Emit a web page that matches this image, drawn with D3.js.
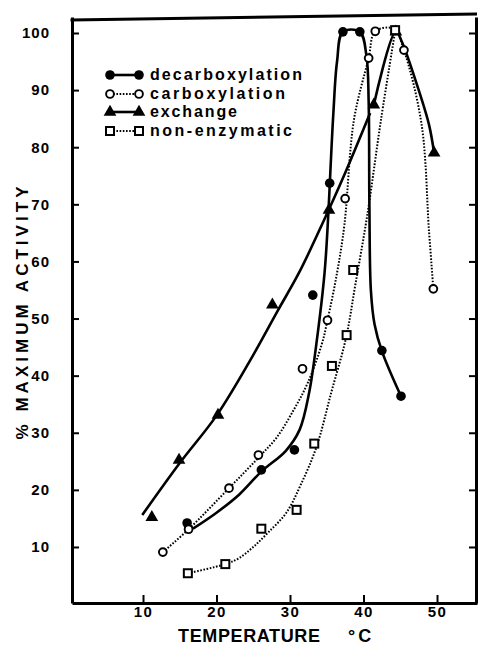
<!DOCTYPE html>
<html><head><meta charset="utf-8">
<script src="https://cdn.jsdelivr.net/npm/d3@7"></script>
<style>
html,body{margin:0;padding:0;background:#fff;}
svg{display:block;}
text{font-family:"Liberation Sans",Arial,Helvetica,sans-serif;font-weight:bold;fill:#000;}
</style></head>
<body><svg id="c" width="478" height="646"></svg>
<script>
// ---- data (temperature °C, % maximum activity) ----
const decarbT = [16.0, 26.1, 30.6, 33.1, 35.4, 37.2, 39.5, 42.5, 45.1];
const decarbV = [14.2, 23.5, 27.0, 54.1, 73.7, 100.2, 100.2, 44.4, 36.4];
const decarbCurveT = [16.8, 20, 23.1, 26.1, 29.4, 31.3, 32.6, 33.6, 34.7, 35.2, 35.5, 35.9, 36.4, 37.2, 39.5, 40.4, 40.7, 40.8, 41.0, 41.5, 42.5, 45.1];
const decarbCurveV = [13.2, 16, 19.2, 23.2, 26.8, 30.5, 37, 45.7, 58, 68, 76, 86, 95, 100.2, 100.2, 96, 88, 70, 55, 49, 44.3, 36.4];

const carbT = [12.7, 16.2, 21.7, 25.7, 31.7, 35.1, 37.5, 40.7, 41.6, 45.5, 49.5];
const carbV = [9.1, 13.1, 20.3, 26.1, 41.2, 49.7, 71.0, 95.6, 100.3, 97.0, 55.2];
const carbCurveT = [12.7, 16.2, 21.7, 25.6, 28.2, 30.5, 32.4, 34.3, 35.1, 36.4, 37.4, 38.7, 40.7, 41.6, 44.2, 45.5, 47.9, 48.9, 49.5];
const carbCurveV = [9.1, 13.1, 20.3, 25.5, 29.2, 34, 38.7, 45.4, 49.7, 58, 66.4, 84.8, 95.6, 100.3, 100.7, 97, 84, 65.5, 55.2];

const exchT = [11.2, 14.9, 20.2, 27.6, 35.3, 41.4, 44.4, 49.6];
const exchV = [15.2, 25.2, 33.1, 52.4, 69.0, 87.4, 100.2, 79.0];
const exchCurve1T = [9.9, 15, 20, 24.5, 28.3, 31.3, 34.4, 37.5, 40.9];
const exchCurve1V = [15.6, 24.7, 33, 42.5, 51.3, 58.2, 66.6, 75.5, 86];
const exchCurve2T = [41.4, 44.4, 45.2, 47, 48.9, 49.6];
const exchCurve2V = [87.4, 100.3, 98.5, 92, 84, 79];

const nonT = [16.1, 21.2, 26.1, 30.9, 33.3, 35.7, 37.7, 38.6, 44.3];
const nonV = [5.4, 7.0, 13.2, 16.5, 28.1, 41.7, 47.1, 58.5, 100.5];
const nonCurveT = [16.1, 21.2, 23, 25, 27, 29.5, 31.5, 33.6, 35.6, 37.6, 38.9, 40.5, 42.4, 44.3];
const nonCurveV = [5.4, 7, 8, 10, 12.5, 16, 21, 27.5, 37, 46.5, 56, 68, 85, 100.3];

const xTicks = [10, 20, 30, 40, 50];
const yTicks = [10, 20, 30, 40, 50, 60, 70, 80, 90, 100];
const legendLabels = ["decarboxylation", "carboxylation", "exchange", "non-enzymatic"];
const legendWidths = [152, 135, 87, 142];
const xTitle = "TEMPERATURE";
const xUnit = "°C";
const yTitle = "% MAXIMUM ACTIVITY";

// ---- scales ----
const svg = d3.select("#c");
const x = d3.scaleLinear().domain([0.34, 55.44]).range([72, 477]);
const y = d3.scaleLinear().domain([0.19, 102.8]).range([603, 17]);

const zip = (a, b) => a.map((v, i) => [v, b[i]]);
const line = d3.line().x(d => x(d[0])).y(d => y(d[1])).curve(d3.curveCatmullRom.alpha(0.5));

// ---- frame / axes ----
const ax = svg.append("g");
const gl = ax.append("g").attr("transform", `translate(${x.range()[0]},0)`)
  .call(d3.axisLeft(y).tickValues(yTicks).tickSize(-7).tickSizeOuter(0).tickPadding(22));
const gb = ax.append("g").attr("transform", `translate(0,${y.range()[0]})`)
  .call(d3.axisBottom(x).tickValues(xTicks).tickSize(-8).tickSizeOuter(0).tickPadding(3));
const gr = ax.append("g").attr("transform", `translate(${x.range()[1] - 1},0)`)
  .call(d3.axisRight(y).tickValues(yTicks).tickSize(-7).tickSizeOuter(0).tickFormat(""));
[gl, gb, gr].forEach(g => {
  g.select(".domain").attr("stroke", "#000").attr("stroke-width", 3);
  g.selectAll(".tick line").attr("stroke", "#000").attr("stroke-width", 2);
  g.selectAll(".tick text").attr("font-size", 15).attr("font-weight", "bold")
    .attr("font-family", '"Liberation Sans",Arial,sans-serif').attr("fill", "#000");
});
gl.selectAll(".tick text").attr("letter-spacing", 1);
gb.selectAll(".tick text").attr("letter-spacing", 1.5);
// top border (slightly tilted as in the scan)
ax.append("line").attr("x1", x.range()[0] - 1.5).attr("y1", y.range()[1] + 3)
  .attr("x2", x.range()[1]).attr("y2", y.range()[1] - 3)
  .attr("stroke", "#000").attr("stroke-width", 3);

// axis titles
svg.append("text").attr("x", 178).attr("y", 642).attr("font-size", 18)
  .attr("textLength", 142).attr("lengthAdjust", "spacing").text(xTitle);
svg.append("text").attr("x", 348).attr("y", 642).attr("font-size", 18)
  .attr("letter-spacing", 3).text(xUnit);
svg.append("text").attr("transform", "translate(28,313) rotate(-90)")
  .attr("text-anchor", "middle").attr("font-size", 17)
  .attr("textLength", 253).attr("lengthAdjust", "spacing").text(yTitle);

// ---- curves ----
const solid = {stroke: "#000", "stroke-width": 2.6, fill: "none"};
const dotted = {stroke: "#000", "stroke-width": 2, fill: "none", "stroke-dasharray": "1.6,1.6"};
function path(data, st) {
  const p = svg.append("path").attr("d", line(data));
  Object.entries(st).forEach(([k, v]) => p.attr(k, v));
}
path(zip(decarbCurveT, decarbCurveV), solid);
path(zip(exchCurve1T, exchCurve1V), solid);
path(zip(exchCurve2T, exchCurve2V), solid);
path(zip(carbCurveT, carbCurveV), dotted);
path(zip(nonCurveT, nonCurveV), dotted);

// ---- markers ----
const tri = d3.symbol().type(d3.symbolTriangle).size(70);
function drawMarker(g, kind, cx, cy) {
  if (kind === "filled") g.append("circle").attr("cx", cx).attr("cy", cy).attr("r", 4.8).attr("fill", "#000");
  else if (kind === "open") g.append("circle").attr("cx", cx).attr("cy", cy).attr("r", 3.9)
    .attr("fill", "#fff").attr("stroke", "#000").attr("stroke-width", 1.9);
  else if (kind === "tri") g.append("path").attr("d", tri()).attr("transform", `translate(${cx},${cy})`).attr("fill", "#000");
  else if (kind === "sq") g.append("rect").attr("x", cx - 4).attr("y", cy - 4).attr("width", 8).attr("height", 8)
    .attr("fill", "#fff").attr("stroke", "#000").attr("stroke-width", 2);
}
const mk = svg.append("g");
zip(decarbT, decarbV).forEach(d => drawMarker(mk, "filled", x(d[0]), y(d[1])));
zip(carbT, carbV).forEach(d => drawMarker(mk, "open", x(d[0]), y(d[1])));
zip(exchT, exchV).forEach(d => drawMarker(mk, "tri", x(d[0]), y(d[1])));
zip(nonT, nonV).forEach(d => drawMarker(mk, "sq", x(d[0]), y(d[1])));

// ---- legend ----
const kinds = ["filled", "open", "tri", "sq"];
const styles = [solid, dotted, solid, dotted];
const lg = svg.append("g");
const rowY = [75, 94, 112, 131];
legendLabels.forEach((lab, i) => {
  const yy = rowY[i];
  const l = lg.append("line").attr("x1", 110).attr("x2", 139).attr("y1", yy).attr("y2", yy);
  Object.entries(styles[i]).forEach(([k, v]) => l.attr(k, v));
  drawMarker(lg, kinds[i], 110, yy);
  drawMarker(lg, kinds[i], 139, yy);
  lg.append("text").attr("x", 150).attr("y", yy + 5).attr("font-size", 16)
    .attr("textLength", legendWidths[i]).attr("lengthAdjust", "spacing").text(lab);
});
</script></body></html>
